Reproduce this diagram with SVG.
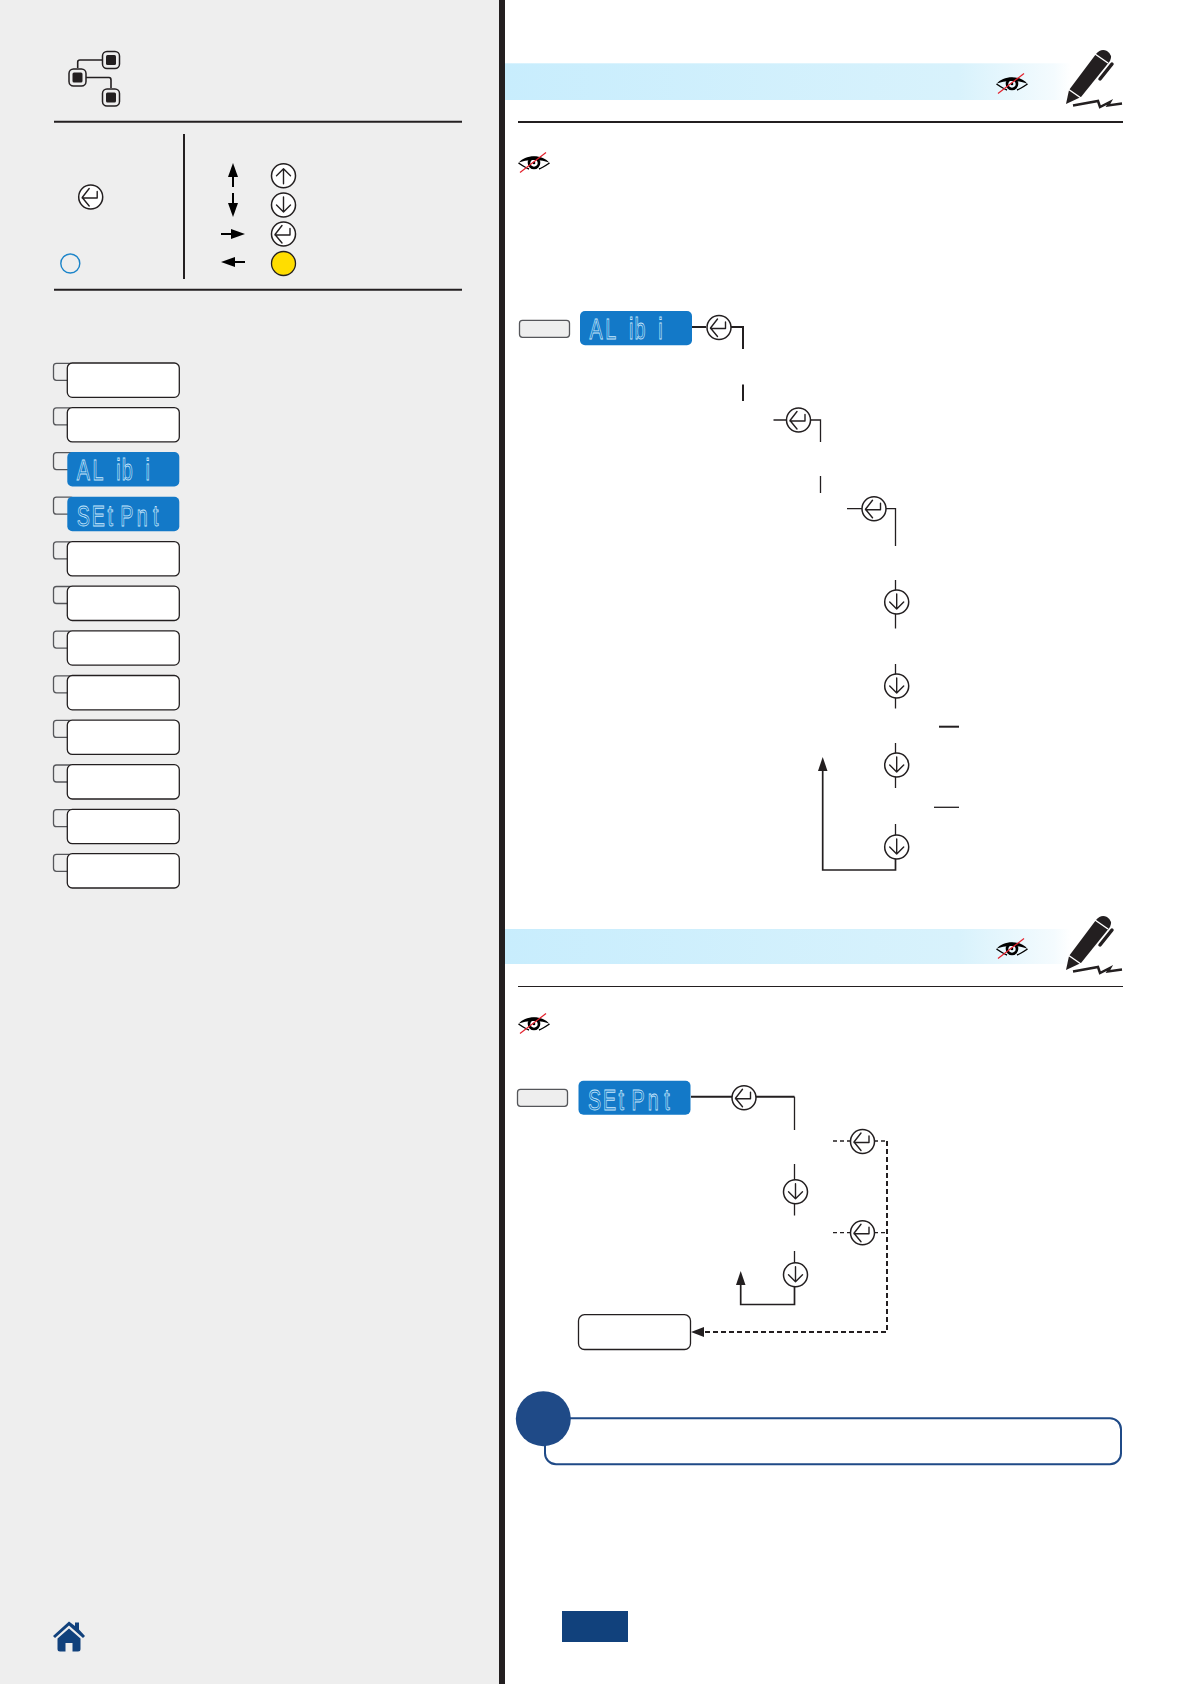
<svg xmlns="http://www.w3.org/2000/svg" width="1191" height="1684" viewBox="0 0 1191 1684">
<style>
.k{fill:#fff;stroke:#231f20;stroke-width:1.5}
.g{fill:none;stroke:#231f20;stroke-width:1.4;stroke-linecap:round;stroke-linejoin:round}
.c{fill:none;stroke:#231f20;stroke-width:1.3}
.c2{fill:none;stroke:#231f20;stroke-width:2}
.r{fill:none;stroke:#231f20;stroke-width:1.7}
.d{fill:none;stroke:#231f20;stroke-width:1.3;stroke-dasharray:4 3}
.d2{fill:none;stroke:#231f20;stroke-width:2;stroke-dasharray:5 3}
.box{fill:#fff;stroke:#231f20;stroke-width:1.3}
.tab{fill:#eee;stroke:#55565a;stroke-width:1.3}
.lcd{fill:#1379c8}
.seg{font-family:"Liberation Sans",Arial,sans-serif;font-size:29px;fill:none;stroke:#c8e8fc;stroke-width:.8}
.rule{stroke:#231f20;stroke-width:2}
.tip{fill:#231f20}
</style>
<defs>
<linearGradient id="band" x1="0" x2="1" y1="0" y2="0"><stop offset="0" stop-color="#c8edfd"/><stop offset=".8" stop-color="#d8f2fc"/><stop offset=".97" stop-color="#f4fbfe"/><stop offset="1" stop-color="#fff"/></linearGradient>
<g id="enter"><circle class="k" r="12"/><path class="g" d="M6.500 -5.500V1H-8.500M-1.500 -8.500L-8.500 .5L-1.500 9"/></g>
<g id="down"><circle class="k" r="12"/><path class="g" d="M0 -8V7M-7 0L0 7L7 0"/></g>
<g id="up"><circle class="k" r="12"/><path class="g" d="M0 8V-7M-7 0L0 -7L7 0"/></g>
<g id="eye"><path d="M-15.500 0C-9 -9 9 -9 15.500 0C9 -4 -9 -4 -15.500 0Z" fill="#000"/><path d="M-15.500 0C-11 3 -8 5 -5 6M15.500 0C11 3 8 5 5 6" fill="none" stroke="#000" stroke-width="1.500"/><circle r="5" fill="none" stroke="#000" stroke-width="2.600"/><circle r="1.300" fill="#000"/><path d="M-14 9.500L12 -10.500" stroke="#e3202c" stroke-width="1.200"/></g>
<g id="pen"><path d="M1066 104L1069 90L1096 54Q1101 48 1107 51Q1113 55 1110 61L1081 97Z" fill="#231f20"/><path d="M1068 89L1081 98M1095 54L1108 63" stroke="#fff" stroke-width="1.500"/><path d="M1100 79L1112 64" stroke="#231f20" stroke-width="3.500" stroke-linecap="round" fill="none"/><path d="M1073 105.500L1098 101L1100 107L1110 102L1108 105.500L1122 103.500" fill="none" stroke="#231f20" stroke-width="2.500"/></g>
</defs>
<rect width="499" height="1684" fill="#eeeeee"/>
<rect x="499" width="6" height="1684" fill="#231f20"/>
<rect x="505" width="686" height="1684" fill="#fff"/>

<g id="network-icon" fill="none" stroke="#231f20">
<path d="M77.700 68V62Q77.700 60 80 60H102M85 77.500H109Q111 77.500 111 80V88" stroke-width="1.600"/>
<rect x="102.500" y="51.500" width="17" height="17" rx="4.500" fill="#eee" stroke-width="1.500"/><rect x="106" y="55" width="10" height="10" rx="1.500" fill="#231f20" stroke="none"/>
<rect x="69" y="69" width="17" height="17" rx="4.500" fill="#eee" stroke-width="1.500"/><rect x="72.500" y="72.500" width="10" height="10" rx="1.500" fill="#231f20" stroke="none"/>
<rect x="102.500" y="89" width="17" height="17" rx="4.500" fill="#eee" stroke-width="1.500"/><rect x="106" y="92.500" width="10" height="10" rx="1.500" fill="#231f20" stroke="none"/>
</g>
<g id="rules-left">
<line class="rule" x1="54" x2="462" y1="121.700" y2="121.700"/>
<line class="rule" x1="54" x2="462" y1="289.700" y2="289.700"/>
<line class="rule" x1="184" x2="184" y1="134" y2="279"/>
</g>
<use id="key-enter" href="#enter" x="90.700" y="197"/>
<circle id="key-blue" cx="70.300" cy="263.500" r="9.500" fill="none" stroke="#1b84c9" stroke-width="1.400"/>
<g id="legend-arrows" stroke="#000" stroke-width="2" fill="#000">
<path d="M233 177V187"/><path d="M233 163L238 177H228Z" stroke="none"/>
<path d="M233 193V203"/><path d="M233 217L238 203H228Z" stroke="none"/>
<path d="M221 234H232"/><path d="M245 234L231 229V239Z" stroke="none"/>
<path d="M235 262H245"/><path d="M221 262L235 257V267Z" stroke="none"/>
</g>
<use id="key-up" href="#up" x="283.500" y="175.700"/>
<use id="key-down" href="#down" x="283.500" y="205"/>
<use id="key-enter2" href="#enter" x="283.500" y="234"/>
<circle id="key-yellow" cx="283.500" cy="263.500" r="12" fill="#ffdd00" stroke="#231f20" stroke-width="1.300"/>

<g id="menu">
<g id="m1"><rect class="tab" x="53.500" y="363.300" width="20" height="17" rx="3"/><rect class="box" x="67.300" y="363" width="112" height="34.300" rx="5"/></g>
<g id="m2"><rect class="tab" x="53.500" y="407.900" width="20" height="17" rx="3"/><rect class="box" x="67.300" y="407.600" width="112" height="34.300" rx="5"/></g>
<g id="m3"><rect class="tab" x="53.500" y="452.600" width="20" height="17" rx="3"/><rect class="lcd" x="67.300" y="452" width="112" height="34.500" rx="5"/><text class="seg" transform="translate(67.300 480) scale(.68 1)" x="14 37 0 72 80 0 115">AL ib i</text></g>
<g id="m4"><rect class="tab" x="53.500" y="497.200" width="20" height="17" rx="3"/><rect class="lcd" x="67.300" y="496.700" width="112" height="34.500" rx="5"/><text class="seg" transform="translate(67.300 526) scale(.68 1)" x="14 36 59 78 102 126">SEtPnt</text></g>
<g id="m5"><rect class="tab" x="53.500" y="541.900" width="20" height="17" rx="3"/><rect class="box" x="67.300" y="541.600" width="112" height="34.300" rx="5"/></g>
<g id="m6"><rect class="tab" x="53.500" y="586.500" width="20" height="17" rx="3"/><rect class="box" x="67.300" y="586.200" width="112" height="34.300" rx="5"/></g>
<g id="m7"><rect class="tab" x="53.500" y="631.100" width="20" height="17" rx="3"/><rect class="box" x="67.300" y="630.800" width="112" height="34.300" rx="5"/></g>
<g id="m8"><rect class="tab" x="53.500" y="675.800" width="20" height="17" rx="3"/><rect class="box" x="67.300" y="675.500" width="112" height="34.300" rx="5"/></g>
<g id="m9"><rect class="tab" x="53.500" y="720.400" width="20" height="17" rx="3"/><rect class="box" x="67.300" y="720.100" width="112" height="34.300" rx="5"/></g>
<g id="m10"><rect class="tab" x="53.500" y="765" width="20" height="17" rx="3"/><rect class="box" x="67.300" y="764.700" width="112" height="34.300" rx="5"/></g>
<g id="m11"><rect class="tab" x="53.500" y="809.700" width="20" height="17" rx="3"/><rect class="box" x="67.300" y="809.400" width="112" height="34.300" rx="5"/></g>
<g id="m12"><rect class="tab" x="53.500" y="854.300" width="20" height="17" rx="3"/><rect class="box" x="67.300" y="853.700" width="112" height="34.300" rx="5"/></g>
</g>
<g id="home" fill="#11417c">
<path d="M69 1621.500L75 1626V1622.500H79V1629.500L85 1636L83 1638L69 1625.500L55 1638L53 1636Z"/>
<path d="M69 1628.500L80.500 1638.500V1649Q80.500 1651.500 78 1651.500H72.500V1643H65.500V1651.500H60Q57.500 1651.500 57.500 1649V1638.500Z"/>
</g>

<g id="header-1"><rect x="505" y="63.300" width="566" height="36.700" fill="url(#band)"/><use href="#eye" x="1012" y="84"/><use href="#pen"/><line class="rule" x1="518" x2="1123" y1="122" y2="122"/></g>
<g id="header-2"><rect x="505" y="929" width="566" height="35" fill="url(#band)"/><use href="#eye" x="1012" y="949"/><use href="#pen" y="866"/><line x1="518" x2="1123" y1="986.500" y2="986.500" stroke="#231f20" stroke-width="1.200"/></g>
<use id="eye-1" href="#eye" x="534" y="163"/>
<use id="eye-2" href="#eye" x="534" y="1024"/>

<g id="connectors">
<path class="c2" d="M692 327H706"/><path class="c2" d="M731 327H743V349"/><path class="c2" d="M743 384.500V401"/>
<path class="c" d="M773.500 420H786M810 420H820.500V442M820.500 476V493"/>
<path class="c" d="M847 508.700H862M886 508.700H895.500V546"/>
<path class="c" d="M895.500 580V590M895.500 614V628.500M895.500 664V674M895.500 698V708.500M895.500 743V753M895.500 777V788M895.500 824V835"/>
<path class="r" d="M895.500 859V870H822.700V768"/><path class="tip" d="M822.700 757L827.500 771H818Z"/>
<path class="c2" d="M939 726.700H959"/><path class="c" d="M934 807.300H959"/>
<path class="c2" d="M691 1096.700H732M756 1096.700H794.500"/>
<path class="c" d="M794.500 1096.700V1130M794.500 1164V1180M794.500 1204V1215.500M794.500 1251V1263"/>
<path class="r" d="M794.500 1287V1304.500H740.700V1282"/><path class="tip" d="M740.700 1271L745.500 1285H736Z"/>
<path class="d" d="M833 1141H850M874 1141H887M833 1232.700H850M874 1232.700H887"/>
<path class="d2" d="M887 1141V1332H702"/>
<path class="tip" d="M691 1332L704 1327V1337Z"/>
</g>

<g id="flow-1">
<rect id="f1-tab" class="tab" x="519.500" y="320.300" width="50" height="17" rx="3"/>
<g id="f1-lcd"><rect class="lcd" x="580" y="311" width="112" height="34.300" rx="5"/><text class="seg" transform="translate(580 339) scale(.68 1)" x="14 37 0 72 80 0 115">AL ib i</text></g>
<use id="f1-e1" href="#enter" x="719" y="327.500"/>
<use id="f1-e2" href="#enter" x="798.500" y="420"/>
<use id="f1-e3" href="#enter" x="874" y="508.700"/>
<use id="f1-d1" href="#down" x="896.700" y="602"/>
<use id="f1-d2" href="#down" x="896.700" y="686"/>
<use id="f1-d3" href="#down" x="896.700" y="765"/>
<use id="f1-d4" href="#down" x="896.700" y="847"/>
</g>
<g id="flow-2">
<rect id="f2-tab" class="tab" x="517.500" y="1089.300" width="50" height="17" rx="3"/>
<g id="f2-lcd"><rect class="lcd" x="578.500" y="1080.700" width="112" height="34" rx="5"/><text class="seg" transform="translate(578.500 1110) scale(.68 1)" x="14 36 59 78 102 126">SEtPnt</text></g>
<use id="f2-e1" href="#enter" x="744" y="1097.700"/>
<use id="f2-e2" href="#enter" x="862.500" y="1141.500"/>
<use id="f2-e3" href="#enter" x="862.500" y="1232.700"/>
<use id="f2-d1" href="#down" x="795.500" y="1191.700"/>
<use id="f2-d2" href="#down" x="795.500" y="1274.700"/>
<rect id="f2-box" class="box" x="578.500" y="1314.700" width="112" height="34.800" rx="6"/>
</g>
<g id="note"><rect x="545" y="1418.300" width="576" height="46" rx="11" fill="#fff" stroke="#1f4a87" stroke-width="2"/><circle cx="543.300" cy="1418.700" r="27.500" fill="#1f4a87"/></g>
<rect id="page-tag" x="562" y="1611" width="66" height="31" fill="#11417c"/>
</svg>
